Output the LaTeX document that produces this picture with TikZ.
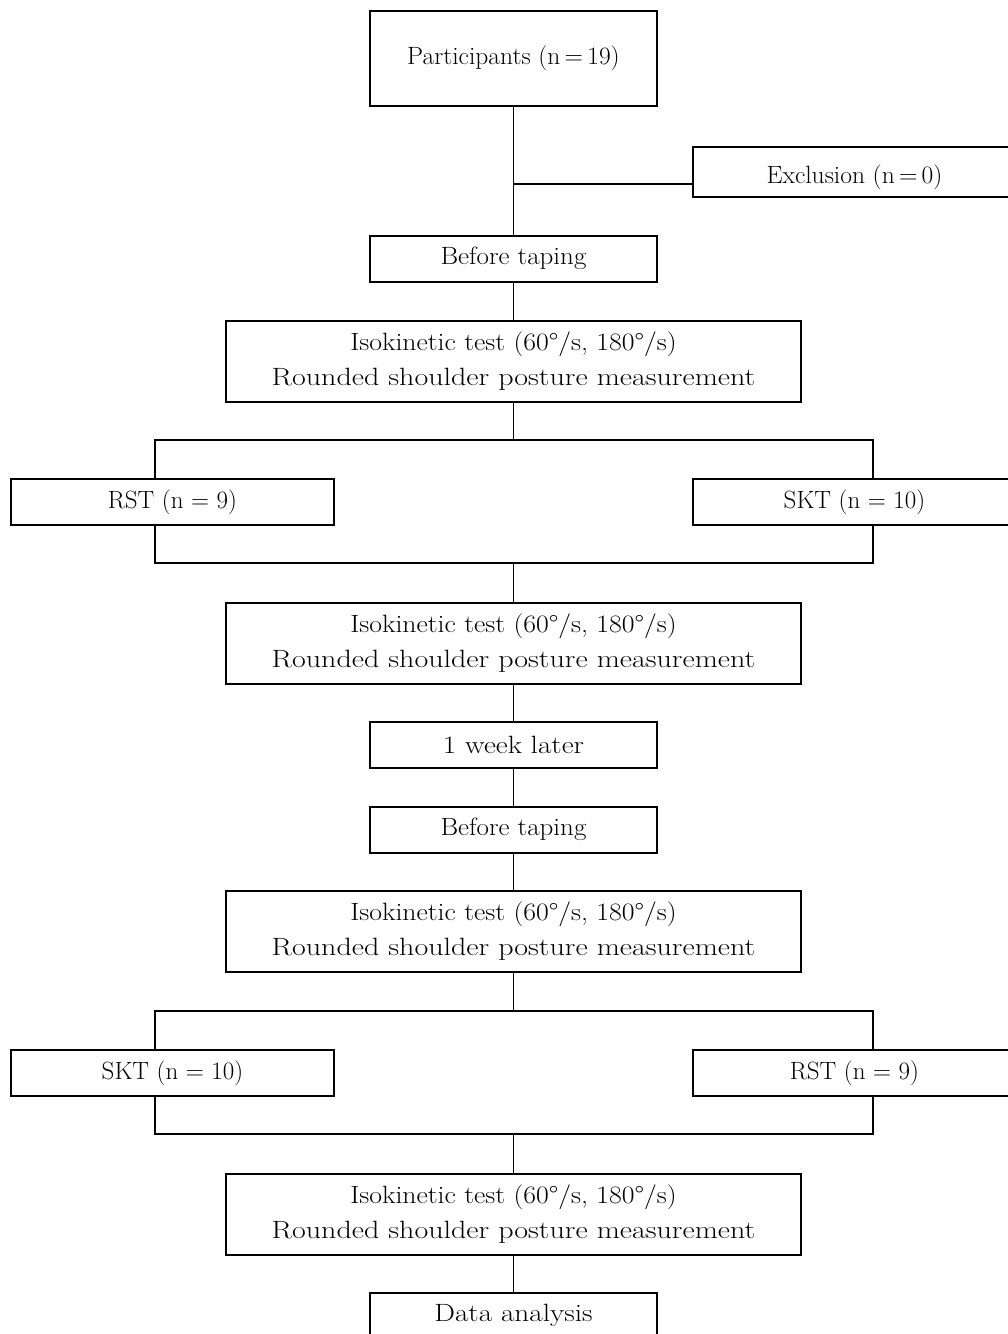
\documentclass[tikz,border=0pt]{standalone}
\usepackage{graphicx}
\newcommand\sx[2]{\scalebox{#1}[1]{#2}}
\newcommand\isotext{\sx{1.11}{Isokinetic test (60°/s, 180°/s)}\\\sx{1.2}{Rounded shoulder posture measurement}}
\begin{document}
\begin{tikzpicture}[x=1pt,y=-1pt,
  box/.style={draw, line width=2pt, inner sep=0pt, outer sep=0pt, align=center,
    font=\fontsize{25}{35}\selectfont},
  smallbox/.style={box, minimum width=287pt, minimum height=46pt},
  isobox/.style={box, minimum width=575pt, minimum height=81pt},
  sidebox/.style={box, minimum width=323pt, minimum height=46pt},
  conn/.style={line width=1.8pt}]
\useasboundingbox (0,0) rectangle (1008,1334);
\clip (0,0) rectangle (1008,1334);

% boxes
\node[box, minimum width=287pt, minimum height=95pt] (part) at (513.5,58.5) {\sx{1.02}{Participants (n\,=\,19)}};
\node[box, minimum width=323pt, minimum height=50pt, text height=30pt, text depth=7pt] (excl) at (854.5,171.5) {\sx{1.02}{Exclusion (n\,=\,0)}};
\node[smallbox] (bt1) at (513.5,258.5) {\sx{1.08}{Before taping}};
\node[isobox] (iso1) at (513.5,361) {\isotext};
\node[sidebox] (rst1) at (172.5,502) {RST (n = 9)};
\node[sidebox] (skt1) at (854.5,502) {SKT (n = 10)};
\node[isobox] (iso2) at (513.5,643.5) {\isotext};
\node[smallbox] (week) at (513.5,745) {\sx{1.17}{1 week later}};
\node[smallbox] (bt2) at (513.5,829.5) {\sx{1.08}{Before taping}};
\node[isobox] (iso3) at (513.5,931.5) {\isotext};
\node[sidebox] (skt2) at (172.5,1073) {SKT (n = 10)};
\node[sidebox] (rst2) at (854.5,1073) {RST (n = 9)};
\node[isobox] (iso4) at (513.5,1214) {\isotext};
\node[box, minimum width=287pt, minimum height=44pt, anchor=north] (data) at (513.5,1293) {\sx{1.17}{Data analysis}};

% junction coordinates
\coordinate (j0) at (513.5,184);
\coordinate (s1l) at (155,440);
\coordinate (s1r) at (873,440);
\coordinate (m1l) at (155,563);
\coordinate (m1r) at (873,563);
\coordinate (s2l) at (155,1011);
\coordinate (s2r) at (873,1011);
\coordinate (m2l) at (155,1134);
\coordinate (m2r) at (873,1134);

% connectors
\draw[conn] (part.south) -- (bt1.north);
\draw[conn] (j0) -- (j0 -| excl.west);
\draw[conn] (bt1.south) -- (iso1.north);
\draw[conn] (iso1.south) -- (iso1.south |- s1l);
\draw[conn] (rst1.north -| s1l) -- (s1l) -- (s1r) -- (skt1.north -| s1r);
\draw[conn] (rst1.south -| m1l) -- (m1l) -- (m1r) -- (skt1.south -| m1r);
\draw[conn] (iso2.north |- m1l) -- (iso2.north);
\draw[conn] (iso2.south) -- (week.north);
\draw[conn] (week.south) -- (bt2.north);
\draw[conn] (bt2.south) -- (iso3.north);
\draw[conn] (iso3.south) -- (iso3.south |- s2l);
\draw[conn] (skt2.north -| s2l) -- (s2l) -- (s2r) -- (rst2.north -| s2r);
\draw[conn] (skt2.south -| m2l) -- (m2l) -- (m2r) -- (rst2.south -| m2r);
\draw[conn] (iso4.north |- m2l) -- (iso4.north);
\draw[conn] (iso4.south) -- (data.north);
\end{tikzpicture}
\end{document}
